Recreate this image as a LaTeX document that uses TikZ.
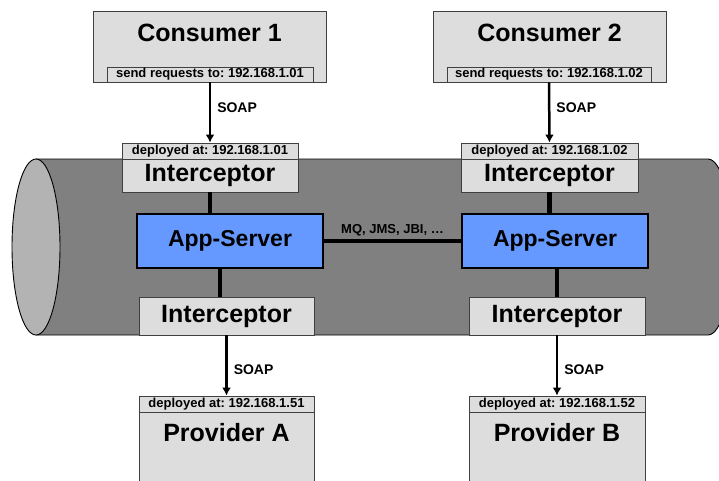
\documentclass[tikz,border=0pt]{standalone}
\usepackage{fontspec}
\setmainfont{Liberation Sans}
\usepackage{tikz}
\usetikzlibrary{arrows.meta,positioning}
\frenchspacing
\definecolor{tubegray}{HTML}{808080}
\definecolor{capgray}{HTML}{B3B3B3}
\definecolor{boxgray}{HTML}{DDDDDD}
\definecolor{appblue}{HTML}{6699FF}
\tikzset{plain box/.style={rectangle, draw=black!75, fill=boxgray, line width=0.9pt, inner sep=0pt}}
\tikzset{tag box/.style={plain box, minimum height=16pt, font=\fontsize{13}{15}\selectfont\bfseries}}
\tikzset{title text/.style={inner sep=0pt, font=\fontsize{25}{30}\selectfont\bfseries}}
\tikzset{interceptor node/.style={plain box, title text}}
\tikzset{app node/.style={rectangle, draw=black, fill=appblue, line width=2.5pt, inner sep=0pt,
    minimum width=186pt, minimum height=54pt, font=\fontsize{23}{28}\selectfont\bfseries}}
\tikzset{soap edge/.style={draw=black, line width=2.5pt, -{Latex[length=8pt,width=9pt]}}}
\tikzset{link edge/.style={draw=black, line width=4.5pt}}
\tikzset{edge label/.style={inner sep=0pt, font=\fontsize{14}{16}\selectfont\bfseries}}

\begin{document}
\begin{tikzpicture}
      [x=1pt, y=-1pt]
      \useasboundingbox (0,0) rectangle (719,480);
      \clip (0,0) rectangle (719,480);

      % the bus as a lying cylinder
      \draw [fill=tubegray, line width=0.9pt]
        (36,159) -- (708,159) arc [start angle=90, end angle=-90, x radius=24pt, y radius=88pt]
        -- (36,335) -- cycle;
      \draw [fill=capgray, line width=0.9pt] (36,247) ellipse [x radius=24pt, y radius=88pt];

      % consumers
      \node [plain box, minimum width=233pt, minimum height=71pt] (con1)     at (209.5, 46.5) {};
      \node [title text]                                          (con1txt)  at (209.5, 33)   {Consumer 1};
      \node [tag box, minimum width=206pt, minimum height=15pt]   (send1)    at (210, 74.5)   {send requests to: 192.168.1.01};
      \node [plain box, minimum width=233pt, minimum height=71pt] (con2)     at (549.5, 46.5) {};
      \node [title text]                                          (con2txt)  at (549.5, 33)   {Consumer 2};
      \node [tag box, minimum width=204pt, minimum height=15pt]   (send2)    at (549, 74.5)   {send requests to: 192.168.1.02};

      % upper interceptors
      \node [tag box, minimum width=176pt]                        (dep1)     at (210, 151)    {deployed at: 192.168.1.01};
      \node [interceptor node, minimum width=176pt, minimum height=33pt] (int1) at (210, 175.5) {Interceptor};
      \node [tag box, minimum width=177pt]                        (dep2)     at (549.5, 151)  {deployed at: 192.168.1.02};
      \node [interceptor node, minimum width=177pt, minimum height=33pt] (int2) at (549.5, 175.5) {Interceptor};

      % app servers
      \node [app node]                                            (app1)     at (230, 241)    {App-Server};
      \node [app node]                                            (app2)     at (555, 241)    {App-Server};

      % lower interceptors
      \node [interceptor node, minimum width=175pt, minimum height=38pt] (lint1) at (226.5, 316) {Interceptor};
      \node [interceptor node, minimum width=176pt, minimum height=38pt] (lint2) at (557, 316)   {Interceptor};

      % providers
      \node [plain box, minimum width=175pt, minimum height=90pt] (prova)    at (226.5, 457)  {};
      \node [tag box, minimum width=175pt]                        (pdepa)    at (226.5, 404)  {deployed at: 192.168.1.51};
      \node [title text]                                          (provatxt) at (226.5, 433)  {Provider A};
      \node [plain box, minimum width=176pt, minimum height=90pt] (provb)    at (557, 457)    {};
      \node [tag box, minimum width=176pt]                        (pdepb)    at (557, 404)    {deployed at: 192.168.1.52};
      \node [title text]                                          (provbtxt) at (557, 433)    {Provider B};

      \draw [soap edge] (send1.south) -- (dep1.north)  node [edge label, pos=0.42, right=6pt] {SOAP};
      \draw [soap edge] (send2.south) -- (dep2.north)  node [edge label, pos=0.42, right=6pt] {SOAP};
      \draw [soap edge] (lint1.south) -- (pdepa.north) node [edge label, pos=0.57, right=6pt] {SOAP};
      \draw [soap edge] (lint2.south) -- (pdepb.north) node [edge label, pos=0.57, right=6pt] {SOAP};

      \draw [link edge] (int1.south) -- (int1.south |- app1.north);
      \draw [link edge] (int2.south) -- (int2.south |- app2.north);
      \draw [link edge] ([xshift=-10pt]app1.south) -- ([xshift=-10pt]app1.south |- lint1.north);
      \draw [link edge] (lint2.north |- app2.south) -- (lint2.north);
      \draw [link edge] (app1.east) -- (app2.west)
        node [midway, above=3pt, inner sep=0pt, font=\fontsize{13}{15}\selectfont\bfseries] {MQ, JMS, JBI, …};
    \end{tikzpicture}
\end{document}
